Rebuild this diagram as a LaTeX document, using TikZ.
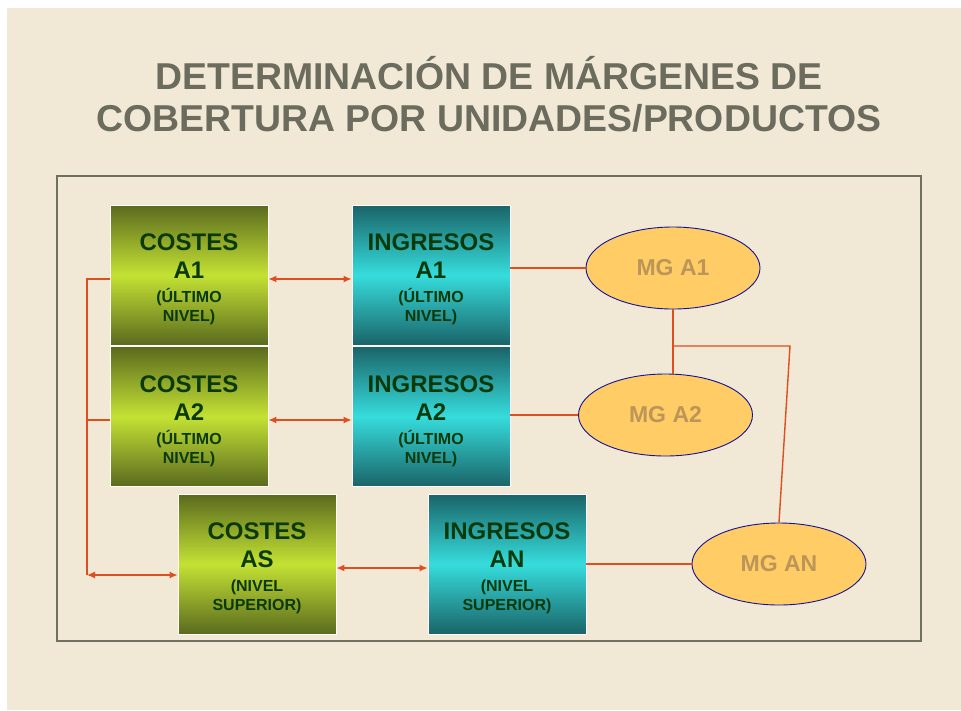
\documentclass[tikz,border=0pt]{standalone}
\usepackage{fontspec}
\setmainfont{Liberation Sans}
\usetikzlibrary{shapes.geometric,arrows.meta}

\definecolor{fondo}{RGB}{241,232,214}
\definecolor{marco}{RGB}{110,112,96}
\definecolor{titulo}{RGB}{107,108,94}
\definecolor{verdeosc}{RGB}{90,106,30}
\definecolor{verdecla}{RGB}{196,226,52}
\definecolor{tealosc}{RGB}{26,100,104}
\definecolor{tealcla}{RGB}{54,220,220}
\definecolor{textoverde}{RGB}{10,58,10}
\definecolor{naranja}{RGB}{255,204,102}
\definecolor{azul}{RGB}{20,20,150}
\definecolor{ocre}{RGB}{188,150,88}
\definecolor{rojo}{RGB}{222,78,30}

\newcommand{\grande}{\fontsize{24}{29}\selectfont\bfseries}
\newcommand{\chico}{\fontsize{16}{18}\selectfont\bfseries}
\newcommand{\cajatxt}[4]{\rule{0pt}{26pt}#1\\[-1pt]#2\\[-5pt]{\chico #3}\\[-10pt]{\chico #4}}

\tikzset{
  caja/.style={minimum width=158pt, minimum height=140pt, inner sep=0pt,
    align=center, font=\grande, text=textoverde, draw=white, line width=0.8pt},
  costes/.style={caja, top color=verdeosc, bottom color=verdeosc, middle color=verdecla},
  ingresos/.style={caja, top color=tealosc, bottom color=tealosc, middle color=tealcla},
  margen/.style={ellipse, draw=azul, line width=0.9pt, fill=naranja,
    minimum width=174pt, minimum height=82pt, inner sep=0pt, text=ocre,
    font=\fontsize{23}{27}\selectfont\bfseries},
  enlace/.style={draw=rojo, line width=1.4pt},
  flecha/.style={enlace, {Latex[length=8pt,width=7pt]}-{Latex[length=8pt,width=7pt]}}
}

\begin{document}
\begin{tikzpicture}[x=1pt,y=-1pt]
    % fondo y marco
    \fill[white] (0,0) rectangle (961,710);
    \fill[fondo] (7,8) rectangle (961,710);
    \draw[marco, line width=2pt] (57,176) rectangle (921,641);

    \node[text=titulo, align=center, inner sep=0pt,
      font=\fontsize{37.4}{42}\selectfont\bfseries] (titulo) at (489,94)
      {DETERMINACIÓN DE MÁRGENES DE\\COBERTURA POR UNIDADES/PRODUCTOS};

    % cajas
    \node[costes] (ca1) at (189,275) {\cajatxt{COSTES}{A1}{(ÚLTIMO}{NIVEL)}};
    \node[costes] (ca2) at (189,416.5) {\cajatxt{COSTES}{A2}{(ÚLTIMO}{NIVEL)}};
    \node[ingresos] (ia1) at (431,275) {\cajatxt{INGRESOS}{A1}{(ÚLTIMO}{NIVEL)}};
    \node[ingresos] (ia2) at (431,416.5) {\cajatxt{INGRESOS}{A2}{(ÚLTIMO}{NIVEL)}};
    \node[costes] (cas) at (257,564) {\cajatxt{COSTES}{AS}{(NIVEL}{SUPERIOR)}};
    \node[ingresos] (ian) at (507,564) {\cajatxt{INGRESOS}{AN}{(NIVEL}{SUPERIOR)}};

    % margenes
    \node[margen] (mg1) at (673,268) {MG A1};
    \node[margen] (mg2) at (665.5,415) {MG A2};
    \node[margen] (mgn) at (779,564) {MG AN};

    % conexiones
    \coordinate (busT) at (87,279);
    \coordinate (busM) at (87,420);
    \coordinate (busB) at (87,575);
    \coordinate (codo) at (790,346);

    \draw[enlace] ([yshift=-4pt]ca1.west) -- (busT) -- (busB);
    \draw[enlace] ([yshift=-3.5pt]ca2.west) -- (busM);
    \draw[flecha] (busB) -- (busB -| cas.west);

    \draw[flecha] ([yshift=-4pt]ca1.east) -- ([yshift=-4pt]ia1.west);
    \draw[flecha] ([yshift=-3.5pt]ca2.east) -- ([yshift=-3.5pt]ia2.west);
    \draw[flecha] ([yshift=-4pt]cas.east) -- ([yshift=-4pt]ian.west);

    \draw[enlace] (mg1.west -| ia1.east) -- (mg1.west);
    \draw[enlace] (mg2.west -| ia2.east) -- (mg2.west);
    \draw[enlace] (mgn.west -| ian.east) -- (mgn.west);

    \draw[enlace] (mg1.south) -- (mg1.south |- mg2.north);
    \draw[enlace] (mg1.south |- codo) -- (codo) -- (mgn.north);
\end{tikzpicture}
\end{document}
